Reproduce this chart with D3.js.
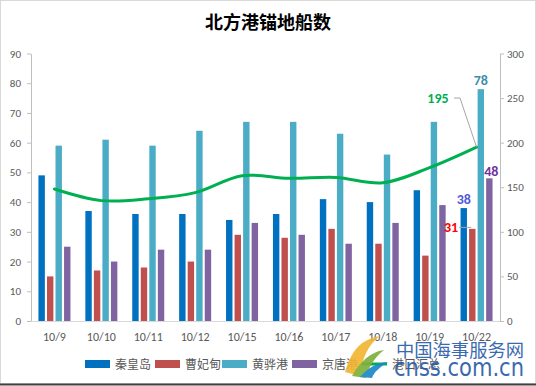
<!DOCTYPE html>
<html>
<head>
<meta charset="utf-8">
<script src="https://cdn.jsdelivr.net/npm/d3@7"></script>
<style>
  body { margin: 0; background: #fff; }
  svg { display: block; font-family: "Microsoft YaHei", "Noto Sans CJK SC", sans-serif; }
</style>
</head>
<body>
<div id="chart"></div>
<script>
// categories and series
var dates = ["10/9", "10/10", "10/11", "10/12", "10/15", "10/16", "10/17", "10/18", "10/19", "10/22"];
var qinhuangdao = [49, 37, 36, 36, 34, 36, 41, 40, 44, 38];
var caofeidian = [15, 17, 18, 20, 29, 28, 31, 26, 22, 31];
var huanghua = [59, 61, 59, 64, 67, 67, 63, 56, 67, 78];
var jingtang = [25, 20, 24, 24, 33, 29, 26, 33, 39, 48];
var total = [148, 135, 137, 144, 163, 160, 161, 155, 172, 195];
var leftTicks = [0, 10, 20, 30, 40, 50, 60, 70, 80, 90];
var rightTicks = [0, 50, 100, 150, 200, 250, 300];

var series = [
  {name: "秦皇岛", values: qinhuangdao, color: "#0070C0"},
  {name: "曹妃甸", values: caofeidian, color: "#C0504D"},
  {name: "黄骅港", values: huanghua, color: "#4BACC6"},
  {name: "京唐港", values: jingtang, color: "#8064A2"}
];

var W = 536, H = 386;
var svg = d3.select("#chart").append("svg").attr("width", W).attr("height", H);

// chart border
svg.append("rect").attr("x", 0.5).attr("y", 0.5).attr("width", W - 1).attr("height", H - 3)
  .attr("fill", "#fff").attr("stroke", "#D9D9D9");
svg.append("line").attr("x1", 0).attr("x2", W).attr("y1", 384.5).attr("y2", 384.5)
  .attr("stroke", "#404040").attr("stroke-width", 2);

svg.append("text").attr("x", 268).attr("y", 29).attr("text-anchor", "middle")
  .attr("font-size", 18).attr("font-weight", "bold").attr("fill", "#000")
  .text("北方港锚地船数");

var x0 = 31, x1 = 500, y0 = 321, y1 = 53.5;

var x = d3.scaleBand().domain(dates).range([x0, x1]);
var xs = d3.scaleBand().domain(series.map(function(s) { return s.name; }))
  .range([0, 32]).paddingInner(0.25);
var yL = d3.scaleLinear().domain([0, 90]).range([y0, y1]);
var yR = d3.scaleLinear().domain([0, 300]).range([y0, y1]);

// axes
var axL = svg.append("g").attr("transform", "translate(" + x0 + ",0)")
  .call(d3.axisLeft(yL).tickValues(leftTicks).tickSize(4).tickPadding(6).tickSizeOuter(0));
var axR = svg.append("g").attr("transform", "translate(" + x1 + ",0)")
  .call(d3.axisRight(yR).tickValues(rightTicks).tickSize(4).tickPadding(3).tickSizeOuter(0));
var axB = svg.append("g").attr("transform", "translate(0," + y0 + ")")
  .call(d3.axisBottom(x).tickSize(0).tickPadding(11));

[axL, axR, axB].forEach(function(g) {
  g.selectAll("path").attr("stroke", "#BFBFBF");
  g.selectAll("line").attr("stroke", "#BFBFBF");
  g.selectAll("text").attr("fill", "#595959").attr("font-size", 11)
    .attr("font-family", "Calibri, 'Liberation Sans', 'DejaVu Sans', sans-serif");
});
axB.select("path").attr("stroke", "#D9D9D9").attr("d", "M" + x0 + ",0.5H" + x1);
axB.selectAll("text").attr("font-size", 12);

// bars
var groups = svg.append("g").selectAll("g").data(series).join("g")
  .attr("fill", function(s) { return s.color; });
groups.selectAll("rect")
  .data(function(s) { return s.values.map(function(v, i) { return {name: s.name, date: dates[i], v: v}; }); })
  .join("rect")
  .attr("x", function(d) { return x(d.date) + (x.bandwidth() - 32) / 2 + xs(d.name); })
  .attr("width", xs.bandwidth())
  .attr("y", function(d) { return yL(d.v); })
  .attr("height", function(d) { return y0 - yL(d.v); });

// total line on right axis
var cx = function(i) { return x(dates[i]) + x.bandwidth() / 2; };
var line = d3.line().x(function(d, i) { return cx(i); }).y(function(d) { return yR(d); })
  .curve(d3.curveCatmullRom.alpha(0.5));
svg.append("path").datum(total).attr("d", line).attr("fill", "none")
  .attr("stroke", "#00B050").attr("stroke-width", 3).attr("stroke-linecap", "round");

// data labels on the last date
var last = dates.length - 1;
function barX(name) { return x(dates[last]) + (x.bandwidth() - 32) / 2 + xs(name) + xs.bandwidth() / 2; }
var lbl = svg.append("g").attr("font-weight", "bold").attr("font-size", 14)
  .attr("font-family", "Calibri, 'Liberation Sans', sans-serif").attr("text-anchor", "middle");
lbl.append("text").attr("x", barX("秦皇岛")).attr("y", yL(qinhuangdao[last]) - 4)
  .attr("fill", "#4F5BD5").text(qinhuangdao[last]);
lbl.append("text").attr("x", barX("黄骅港")).attr("y", yL(huanghua[last]) - 4)
  .attr("fill", "#3C8DAE").text(huanghua[last]);
lbl.append("text").attr("x", barX("京唐港") + 2).attr("y", yL(jingtang[last]) - 2)
  .attr("fill", "#7030A0").text(jingtang[last]);
lbl.append("text").attr("x", 451).attr("y", yL(caofeidian[last]) + 3)
  .attr("fill", "#FF0000").text(caofeidian[last]);
svg.append("line").attr("x1", 459).attr("x2", barX("曹妃甸") - 1)
  .attr("y1", yL(caofeidian[last]) - 1.5).attr("y2", yL(caofeidian[last]) - 1.5)
  .attr("stroke", "#A6A6A6");
lbl.append("text").attr("x", 438).attr("y", 103)
  .attr("fill", "#00B050").text(total[last]);
svg.append("path").attr("fill", "none").attr("stroke", "#A6A6A6")
  .attr("d", "M454,98H460L" + cx(last) + "," + yR(total[last]));

// legend
var legendItems = series.map(function(s) { return {name: s.name, color: s.color, type: "rect"}; })
  .concat([{name: "港口汇总", color: "#00B050", type: "line"}]);
var legendX = [85, 155, 222, 292, 362];
var leg = svg.append("g").selectAll("g").data(legendItems).join("g")
  .attr("transform", function(d, i) { return "translate(" + legendX[i] + ",364)"; });
leg.filter(function(d) { return d.type === "rect"; }).append("rect")
  .attr("x", 0).attr("y", -4).attr("width", 25).attr("height", 8).attr("fill", function(d) { return d.color; });
leg.filter(function(d) { return d.type === "line"; }).append("line")
  .attr("x1", 0).attr("x2", 25).attr("y1", 0).attr("y2", 0)
  .attr("stroke", function(d) { return d.color; }).attr("stroke-width", 3);
leg.append("text").attr("x", 30).attr("y", 4.5).attr("font-size", 12).attr("fill", "#595959")
  .text(function(d) { return d.name; });

// watermark
var wm = svg.append("g").attr("opacity", 0.92);
wm.append("path").attr("fill", "#F2B632")
  .attr("d", "M345,372 C352,350 360,340 380,336 C368,345 362,358 360,376 Z");
wm.append("path").attr("fill", "#7FB03C")
  .attr("d", "M352,376 C360,362 370,352 384,350 C374,358 368,368 366,378 Z");
wm.append("path").attr("fill", "#1E88C8")
  .attr("d", "M360,377 C368,368 376,363 388,362 C380,367 374,372 372,378 Z");
wm.append("text").attr("x", 396).attr("y", 357).attr("font-size", 18)
  .attr("textLength", 128).attr("lengthAdjust", "spacingAndGlyphs")
  .attr("fill", "#2B5DA8").attr("font-family", "'Noto Sans CJK SC', sans-serif").text("中国海事服务网");
wm.append("text").attr("x", 394).attr("y", 376).attr("font-size", 24)
  .attr("textLength", 130).attr("lengthAdjust", "spacingAndGlyphs")
  .attr("fill", "#2B5DA8").attr("font-family", "'DejaVu Sans', sans-serif").text("cnss.com.cn");
</script>
</body>
</html>
